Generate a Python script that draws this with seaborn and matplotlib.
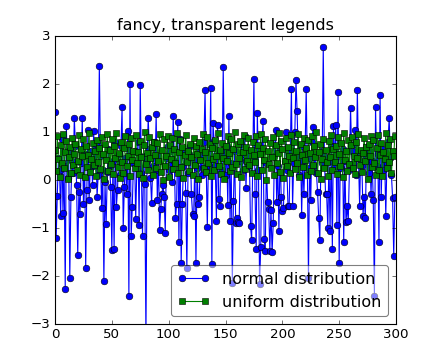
import numpy as np
import matplotlib
matplotlib.use('Agg')
import matplotlib.pyplot as plt
import seaborn as sns

# values (300 points each)
normal_vals = [
    1.42, -1.21, -0.33, 0.45, 0.2, -0.75, 0.85, -0.68, 0.3, -2.27,
    1.12, 0.05, 0.6, -2.04, -0.35, 0.4, 0.15, 1.29, 0.7, -0.1,
    -1.56, -0.25, -0.71, 0.35, 1.29, -0.5, 0.55, -1.83, -0.2, 1.04,
    -0.42, 0.25, 0.6, -0.1, 1.02, 0.3, 0.75, -0.35, 0.1, 2.37,
    0.5, -0.58, 0.2, -2.1, -0.05, -0.92, 0.17, 0.65, 0.3, -0.15,
    -1.45, 0.4, -1.43, 0.8, -0.56, -0.2, 0.55, 0.1, 0.7, 1.52,
    -1.0, -0.15, 0.45, -0.3, 1.02, -2.42, 2.01, -1.17, -0.56, 0.35,
    0.6, -0.82, 0.25, 0.8, -0.93, 1.98, 0.15, -1.17, 0.5, -0.08,
    -3.3, 0.4, 1.29, 0.65, 0.05, -0.48, 0.3, 0.8, 0.2, 1.38,
    -0.42, 0.5, -1.04, -0.6, -0.3, -0.1, -0.36, -1.1, 0.45, 0.7,
    0.2, 0.6, 0.35, -0.05, 1.33, 0.4, -0.8, -0.5, 1.21, -1.29,
    0.85, -1.72, -0.5, 0.3, 0.6, -0.28, -1.83, 0.15, 0.55, 0.7,
    -0.3, -0.7, -0.75, 0.4, -1.72, 0.25, -0.5, -0.35, 0.6, 0.1,
    0.5, 0.8, 1.87, 0.3, -0.98, 0.45, 0.15, 1.91, -1.75, 1.18,
    0.82, 0.3, -0.85, 1.15, -0.4, -0.55, 0.6, 0.2, 2.35, 0.5,
    0.1, 0.7, -0.52, 1.33, -0.85, 0.35, -2.14, -0.43, 0.6, -0.9,
    -0.8, -0.87, -0.9, 0.4, 0.75, 0.2, 0.55, 0.92, -0.17, 0.6,
    0.3, 0.5, -0.96, -1.25, 0.45, 2.1, -0.3, -1.44, 1.4, 0.2,
    -2.17, -1.4, 0.6, 1.22, -1.22, -1.48, 0.35, -0.45, -0.6, -1.47,
    -0.62, -1.5, -0.9, 0.5, 1.05, -0.45, 0.3, -1.06, 0.65, -0.35,
    -0.65, -0.58, 0.4, 1.0, 0.2, -0.55, -0.55, 0.6, 1.9, -0.55,
    0.35, 1.0, 2.08, 1.43, 0.5, 0.1, 0.7, -0.72, 0.4, -0.3,
    0.6, 1.9, 0.25, -2.04, 0.45, -0.42, 0.8, 1.1, 0.3, 0.55,
    0.15, -0.25, -0.8, -1.25, 0.6, 0.35, 2.77, 0.5, -0.3, -0.3,
    -1.0, 0.4, -1.06, 0.7, -1.43, 1.12, 0.3, 1.15, -0.93, 1.84,
    -1.72, 0.5, 0.25, 0.65, -1.29, 0.4, -0.88, -0.55, -0.85, 0.2,
    1.5, 0.6, 0.35, 0.75, 1.05, 0.1, 1.87, 0.45, -0.55, 0.6,
    0.3, -0.75, -0.35, -0.8, 0.5, 0.7, 0.15, 0.6, -0.3, 0.4,
    -0.42, -2.42, 1.52, 0.3, 0.55, -1.29, 1.78, -0.35, 0.65, 0.2,
    0.5, -0.75, 0.35, 0.8, 1.3, 0.45, 0.1, -0.37, -1.58, -0.35,
]

uniform_vals = [
    0.62, 0.18, 0.91, 0.44, 0.07, 0.73, 0.35, 0.96, 0.25, 0.58,
    0.81, 0.03, 0.47, 0.69, 0.14, 0.88, 0.32, 0.55, 0.76, 0.21,
    0.39, 0.93, 0.11, 0.64, 0.49, 0.85, 0.06, 0.71, 0.28, 0.52,
    0.97, 0.16, 0.43, 0.78, 0.31, 0.60, 0.09, 0.84, 0.37, 0.67,
    0.23, 0.89, 0.54, 0.02, 0.75, 0.41, 0.95, 0.19, 0.63, 0.34,
    0.86, 0.12, 0.70, 0.46, 0.98, 0.27, 0.57, 0.05, 0.80, 0.38,
    0.15, 0.66, 0.92, 0.30, 0.51, 0.74, 0.08, 0.87, 0.42, 0.61,
    0.26, 0.94, 0.36, 0.59, 0.13, 0.82, 0.48, 0.04, 0.72, 0.99,
    0.33, 0.56, 0.20, 0.90, 0.45, 0.68, 0.10, 0.79, 0.53, 0.24,
    0.77, 0.40, 0.96, 0.17, 0.62, 0.01, 0.85, 0.29, 0.50, 0.91,
    0.07, 0.73, 0.44, 0.88, 0.22, 0.65, 0.35, 0.97, 0.14, 0.58,
    0.83, 0.27, 0.69, 0.05, 0.52, 0.93, 0.38, 0.61, 0.19, 0.76,
    0.47, 0.11, 0.87, 0.32, 0.71, 0.55, 0.02, 0.80, 0.41, 0.64,
    0.95, 0.25, 0.58, 0.16, 0.89, 0.36, 0.74, 0.09, 0.67, 0.43,
    0.21, 0.84, 0.50, 0.97, 0.30, 0.62, 0.13, 0.78, 0.46, 0.03,
    0.70, 0.39, 0.92, 0.57, 0.18, 0.86, 0.28, 0.65, 0.99, 0.34,
    0.12, 0.75, 0.45, 0.81, 0.06, 0.59, 0.94, 0.23, 0.68, 0.40,
    0.88, 0.31, 0.63, 0.15, 0.79, 0.52, 0.37, 0.91, 0.08, 0.72,
    0.54, 0.96, 0.20, 0.66, 0.42, 0.85, 0.01, 0.60, 0.33, 0.77,
    0.26, 0.48, 0.90, 0.11, 0.73, 0.35, 0.57, 0.98, 0.17, 0.82,
    0.64, 0.04, 0.39, 0.87, 0.29, 0.69, 0.50, 0.14, 0.93, 0.45,
    0.80, 0.22, 0.61, 0.36, 0.95, 0.07, 0.74, 0.53, 0.27, 0.88,
    0.41, 0.67, 0.10, 0.83, 0.56, 0.19, 0.92, 0.32, 0.70, 0.48,
    0.99, 0.15, 0.58, 0.76, 0.03, 0.44, 0.86, 0.25, 0.62, 0.37,
    0.09, 0.81, 0.47, 0.94, 0.21, 0.65, 0.38, 0.71, 0.13, 0.89,
    0.55, 0.30, 0.78, 0.06, 0.97, 0.42, 0.60, 0.18, 0.84, 0.34,
    0.72, 0.90, 0.24, 0.51, 0.12, 0.79, 0.46, 0.95, 0.31, 0.63,
    0.16, 0.57, 0.87, 0.40, 0.68, 0.02, 0.75, 0.49, 0.91, 0.28,
    0.83, 0.35, 0.11, 0.66, 0.94, 0.20, 0.53, 0.77, 0.08, 0.59,
    0.43, 0.98, 0.26, 0.73, 0.37, 0.85, 0.14, 0.61, 0.50, 0.92,
]

idx = np.arange(len(normal_vals))

plt.style.use('classic')
plt.rcParams['font.family'] = ['DejaVu Sans']

fig, ax = plt.subplots(figsize=(5.5, 4.5), dpi=80)

sns.lineplot(x=idx, y=normal_vals, ax=ax, color='b', marker='o', markersize=6,
             markeredgecolor='k', markeredgewidth=0.5, linewidth=1,
             label='normal distribution')
sns.lineplot(x=idx, y=uniform_vals, ax=ax, color='g', marker='s', markersize=6,
             markeredgecolor='k', markeredgewidth=0.5, linewidth=1,
             label='uniform distribution')

ax.set_xlim(0, 300)
ax.set_ylim(-3, 3)
ax.set_xticks([0, 50, 100, 150, 200, 250, 300])
ax.set_yticks([-3, -2, -1, 0, 1, 2, 3])
ax.set_title('fancy, transparent legends')

leg = ax.legend(loc='lower right', fancybox=True, numpoints=2)
leg.get_frame().set_alpha(0.5)

fig.savefig('out.png', dpi=80)
